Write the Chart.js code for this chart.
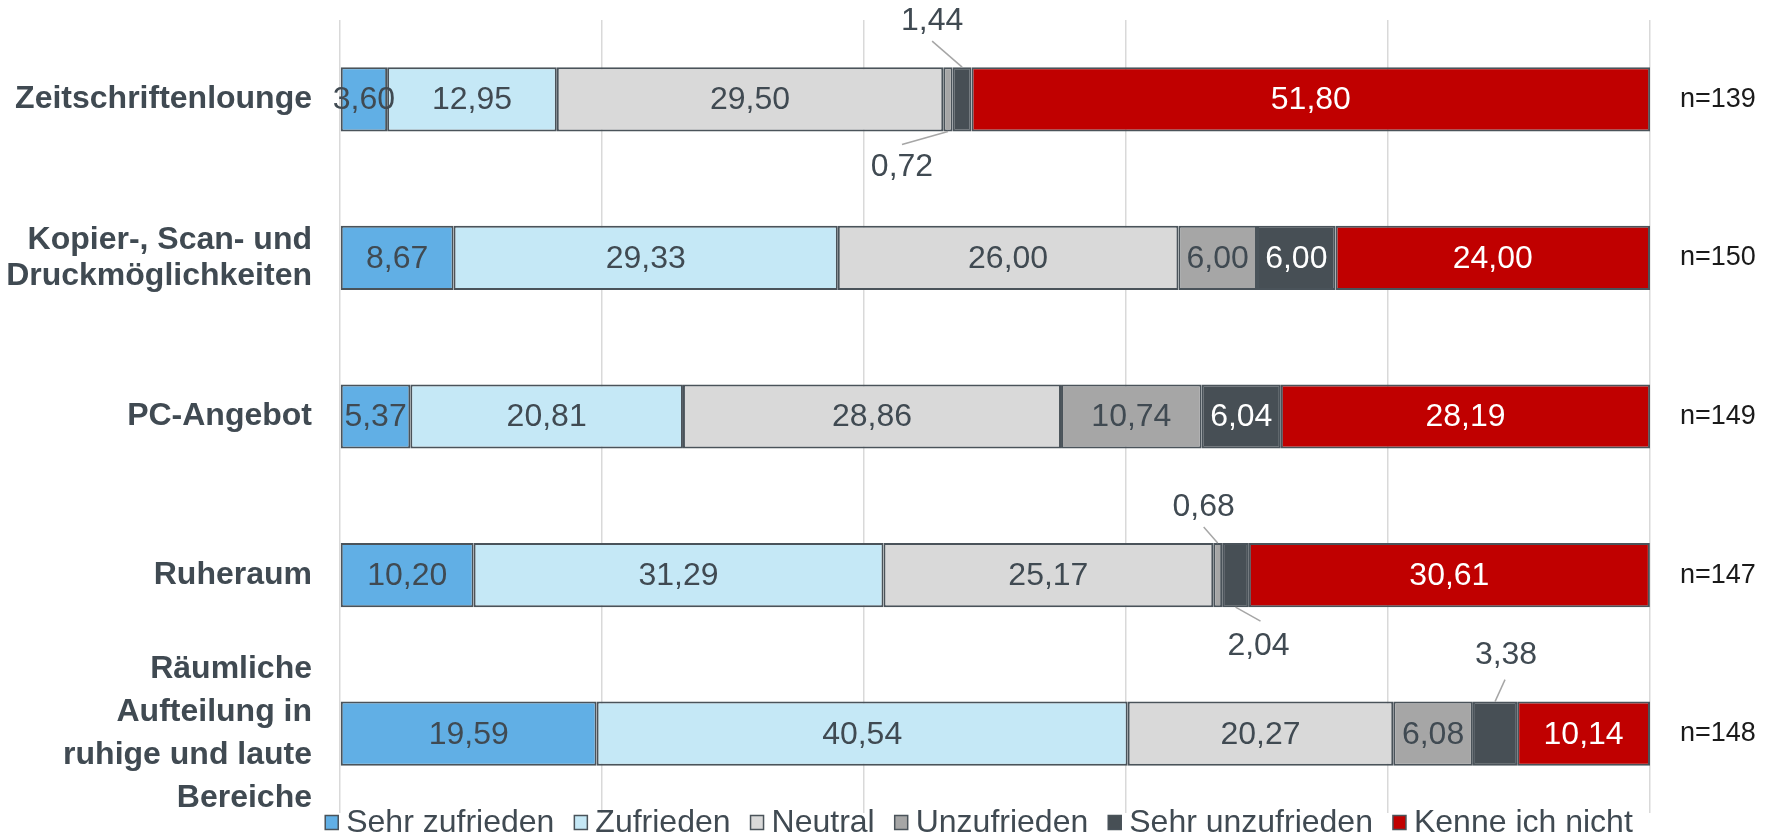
<!DOCTYPE html>
<html>
<head>
<meta charset="utf-8">
<script src="https://cdn.jsdelivr.net/npm/chart.js@4"></script>
<style>
  html, body { margin: 0; padding: 0; background: #fff; }
  canvas { display: block; }
</style>
</head>
<body>
<canvas id="myBarChart" width="1771" height="834"></canvas>
<script>
// Zufriedenheit mit Angeboten (Anteile in %)
const categories = [
    "Zeitschriftenlounge",
    ["Kopier-, Scan- und", "Druckmöglichkeiten"],
    "PC-Angebot",
    "Ruheraum",
    ["Räumliche", "Aufteilung in", "ruhige und laute", "Bereiche"]
];
const nLabels = ["n=139", "n=150", "n=149", "n=147", "n=148"];

const seriesNames = ["Sehr zufrieden", "Zufrieden", "Neutral", "Unzufrieden", "Sehr unzufrieden", "Kenne ich nicht"];
const sehrZufrieden = [3.60, 8.67, 5.37, 10.20, 19.59];
const zufrieden = [12.95, 29.33, 20.81, 31.29, 40.54];
const neutral = [29.50, 26.00, 28.86, 25.17, 20.27];
const unzufrieden = [0.72, 6.00, 10.74, 0.68, 6.08];
const sehrUnzufrieden = [1.44, 6.00, 6.04, 2.04, 3.38];
const kenneIchNicht = [51.80, 24.00, 28.19, 30.61, 10.14];

const seriesColors = ["#61AFE5", "#C5E8F6", "#D9D9D9", "#A6A6A6", "#474F55", "#C00000"];
const labelColors = ["#404A52", "#404A52", "#404A52", "#404A52", "#FFFFFF", "#FFFFFF"];

// small segments get their value outside the bar with a leader line
const callouts = [
    { ds: 4, idx: 0, side: "top", tx: -30, ty: -46, lx: -30, ly: -26 },
    { ds: 3, idx: 0, side: "bottom", tx: -46, ty: 36, lx: -46, ly: 13 },
    { ds: 3, idx: 3, side: "top", tx: -14, ty: -36, lx: -14, ly: -16 },
    { ds: 4, idx: 3, side: "bottom", tx: 23, ty: 39, lx: 25, ly: 14 },
    { ds: 4, idx: 4, side: "top", tx: 11, ty: -46, lx: 10, ly: -22 }
];

const FONT = "'Liberation Sans', Arial, Helvetica, sans-serif";
const TEXT_DARK = "#404A52";

function fmt(v) {
    return v.toFixed(2).replace(".", ",");
}

const valueLabels = {
    id: "valueLabels",
    afterDatasetsDraw(chart) {
        const ctx = chart.ctx;
        ctx.save();
        ctx.font = "32px " + FONT;
        ctx.textAlign = "center";
        ctx.textBaseline = "middle";
        chart.data.datasets.forEach((ds, i) => {
            const meta = chart.getDatasetMeta(i);
            meta.data.forEach((bar, j) => {
                const cx = (bar.x + bar.base) / 2;
                const co = callouts.find(c => c.ds === i && c.idx === j);
                if (co) {
                    const edge = co.side === "top" ? bar.y - bar.height / 2 : bar.y + bar.height / 2;
                    ctx.strokeStyle = "#A6A6A6";
                    ctx.lineWidth = 1.5;
                    ctx.beginPath();
                    ctx.moveTo(cx, edge);
                    ctx.lineTo(cx + co.lx, edge + co.ly);
                    ctx.stroke();
                    ctx.fillStyle = TEXT_DARK;
                    ctx.fillText(fmt(ds.data[j]), cx + co.tx, edge + co.ty);
                } else {
                    ctx.fillStyle = labelColors[i];
                    ctx.fillText(fmt(ds.data[j]), cx, bar.y + 1);
                }
            });
        });
        ctx.restore();
    }
};

const bottomLegend = {
    id: "bottomLegend",
    afterDraw(chart) {
        const ctx = chart.ctx;
        const box = 13, gapText = 8, gapItem = 20;
        ctx.save();
        ctx.font = "32px " + FONT;
        ctx.textBaseline = "middle";
        ctx.textAlign = "left";
        const items = chart.data.datasets.map(ds => ({
            text: ds.label,
            color: ds.backgroundColor,
            w: ctx.measureText(ds.label).width
        }));
        let total = 0;
        items.forEach((it, k) => {
            total += box + gapText + it.w + (k < items.length - 1 ? gapItem : 0);
        });
        let x = 979 - total / 2;
        const y = 822;
        items.forEach(it => {
            ctx.fillStyle = it.color;
            ctx.fillRect(x, y - box / 2, box, box + 1);
            ctx.strokeStyle = "#4A535A";
            ctx.lineWidth = 1.5;
            ctx.strokeRect(x, y - box / 2, box, box + 1);
            ctx.fillStyle = TEXT_DARK;
            ctx.fillText(it.text, x + box + gapText, y + 1);
            x += box + gapText + it.w + gapItem;
        });
        ctx.restore();
    }
};

const seriesValues = [sehrZufrieden, zufrieden, neutral, unzufrieden, sehrUnzufrieden, kenneIchNicht];

const data = {
    labels: categories,
    datasets: seriesNames.map((name, i) => ({
        label: name,
        data: seriesValues[i],
        backgroundColor: seriesColors[i],
        borderColor: "#4A535A",
        borderWidth: 2,
        borderSkipped: false,
        barPercentage: 0.405,
        categoryPercentage: 1.0,
        yAxisID: "y"
    }))
};

function fixSide(width) {
    return function (scale) {
        scale.width = width;
        scale.paddingTop = 0;
        scale.paddingBottom = 0;
    };
}

const options = {
    indexAxis: "y",
    responsive: false,
    animation: false,
    layout: { padding: { top: 20, bottom: 21, left: 0, right: 0 } },
    plugins: {
        legend: { display: false },
        tooltip: { enabled: false }
    },
    scales: {
        x: {
            stacked: true,
            min: 0,
            max: 100,
            ticks: { display: false, stepSize: 20 },
            grid: { color: "#D9D9D9", lineWidth: 1.5, drawTicks: false },
            border: { display: false },
            afterFit(scale) {
                scale.height = 0;
                scale.paddingLeft = 0;
                scale.paddingRight = 0;
            }
        },
        y: {
            stacked: true,
            position: "left",
            grid: { display: false, drawTicks: false },
            border: { display: false },
            ticks: {
                autoSkip: false,
                color: TEXT_DARK,
                padding: 28,
                // the four-line label is spaced a little wider than the two-line one
                font: (c) => ({
                    family: FONT,
                    size: 32,
                    weight: "bold",
                    lineHeight: c.index === 4 ? 1.34 : 1.12
                })
            },
            afterFit: fixSide(340)
        },
        y2: {
            type: "category",
            position: "right",
            labels: nLabels,
            offset: true,
            grid: { display: false, drawTicks: false },
            border: { display: false },
            ticks: {
                autoSkip: false,
                color: "#1A1A1A",
                padding: 30,
                font: { family: FONT, size: 27 }
            },
            afterFit: fixSide(121)
        }
    }
};

const ctx = document.getElementById("myBarChart").getContext("2d");
new Chart(ctx, {
    type: "bar",
    data: data,
    options: options,
    plugins: [valueLabels, bottomLegend]
});
</script>
</body>
</html>
